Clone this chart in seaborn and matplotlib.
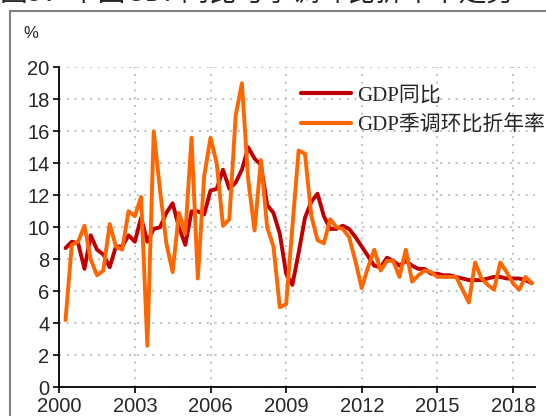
import numpy as np
import pandas as pd
import matplotlib
matplotlib.use('Agg')
import matplotlib.pyplot as plt
import matplotlib.dates as mdates
from matplotlib.patches import Rectangle
import seaborn as sns

sns.set_theme(style='white')
plt.rcParams['font.family'] = ['Liberation Sans', 'Noto Sans CJK SC']

# quarterly data, 2000Q1 - 2018Q3 (quarter-end dates)
quarters = pd.date_range('2000-03-31', periods=75, freq='QE')
gdp_yoy = [8.7, 9.1, 9.0, 7.4, 9.5, 8.6, 8.3, 7.5, 8.8, 8.8, 9.5, 9.1,
           10.6, 9.1, 9.9, 10.0, 10.9, 11.5, 10.0, 8.9, 11.0, 11.0, 10.8, 12.3,
           12.4, 13.6, 12.4, 12.8, 13.6, 15.0, 14.3, 13.9, 11.4, 10.9, 9.6, 7.1,
           6.4, 8.4, 10.6, 11.6, 12.1, 10.7, 9.9, 9.9, 10.1, 9.9, 9.4, 8.8,
           8.2, 7.6, 7.5, 8.1, 7.9, 7.6, 7.9, 7.6, 7.4, 7.4, 7.1, 7.1,
           7.0, 7.0, 6.9, 6.8, 6.7, 6.7, 6.7, 6.8, 6.9, 6.9, 6.8, 6.8,
           6.8, 6.7, 6.5]
gdp_qoq_saar = [4.2, 8.9, 9.1, 10.1, 8.0, 7.0, 7.3, 10.2, 8.8, 8.6, 11.0, 10.7,
                11.9, 2.6, 16.0, 12.3, 9.0, 7.2, 10.9, 9.6, 15.6, 6.8, 13.2, 15.6,
                14.0, 10.1, 10.5, 17.0, 19.0, 13.0, 9.8, 14.2, 10.0, 8.8, 5.0, 5.2,
                10.0, 14.8, 14.6, 10.7, 9.2, 9.0, 10.5, 10.0, 9.9, 9.4, 7.9, 6.2,
                7.5, 8.6, 7.3, 7.9, 7.9, 6.9, 8.6, 6.6, 7.0, 7.3, 7.2, 6.9,
                6.9, 6.9, 6.9, 6.1, 5.3, 7.8, 6.8, 6.4, 6.1, 7.8, 7.2, 6.5,
                6.1, 6.9, 6.5]
series_names = ['GDP同比', 'GDP季调环比折年率']
series_colors = ['#C00000', '#FF6600']
tick_years = [2000, 2003, 2006, 2009, 2012, 2015, 2018]

df = pd.DataFrame({'date': quarters, series_names[0]: gdp_yoy, series_names[1]: gdp_qoq_saar})
long_df = df.melt(id_vars='date', var_name='series', value_name='value')

fig = plt.figure(figsize=(5.46, 4.16), dpi=100)
ax = fig.add_axes([59.3 / 546, 28.7 / 416, (535 - 59.3) / 546, 320 / 416])

sns.lineplot(data=long_df, x='date', y='value', hue='series', hue_order=series_names,
             palette=series_colors, linewidth=2.8, ax=ax, legend=True)

ax.set_xlim(pd.Timestamp('2000-01-01'), pd.Timestamp('2018-11-15'))
ax.set_ylim(0, 20)
ax.set_yticks(np.arange(0, 21, 2))
ax.set_xticks([pd.Timestamp(f'{y}-01-01') for y in tick_years])
ax.xaxis.set_major_formatter(mdates.DateFormatter('%Y'))
ax.set_xlabel('')
ax.set_ylabel('')

ax.grid(True, color='#BFBFBF', linestyle=(0, (1, 3)), linewidth=1.4)
ax.set_axisbelow(True)
for s in ['top', 'right']:
    ax.spines[s].set_visible(False)
for s in ['left', 'bottom']:
    ax.spines[s].set_color('black')
    ax.spines[s].set_linewidth(1.3)
ax.tick_params(axis='both', which='major', direction='out', length=4, width=1.2,
               color='black', labelsize=14.5, pad=3, bottom=True, left=True)

leg = ax.legend(loc='upper left', bbox_to_anchor=(301 / 546, 1 - 86 / 416),
                bbox_transform=fig.transFigure, frameon=False, borderpad=0,
                borderaxespad=0, handlelength=2.4, handletextpad=0.3, labelspacing=0.45,
                prop={'family': ['Liberation Serif', 'Noto Sans CJK SC'], 'size': 15})
for line in leg.get_lines():
    line.set_linewidth(3)

fig.text(31 / 546, 1 - 34 / 416, '%', ha='center', va='center', fontsize=12)
fig.text(0.0, 1 - 8 / 416, '图3：中国GDP同比与季调环比折年率走势', ha='left', va='bottom',
         fontsize=20, family=['Noto Sans CJK SC'])
fig.patches.append(Rectangle((9.5 / 546, -0.5), 2.0, 1.5 - 11 / 416, transform=fig.transFigure,
                             fill=False, edgecolor='#808080', linewidth=1.5))

fig.savefig('out.png', dpi=100)
